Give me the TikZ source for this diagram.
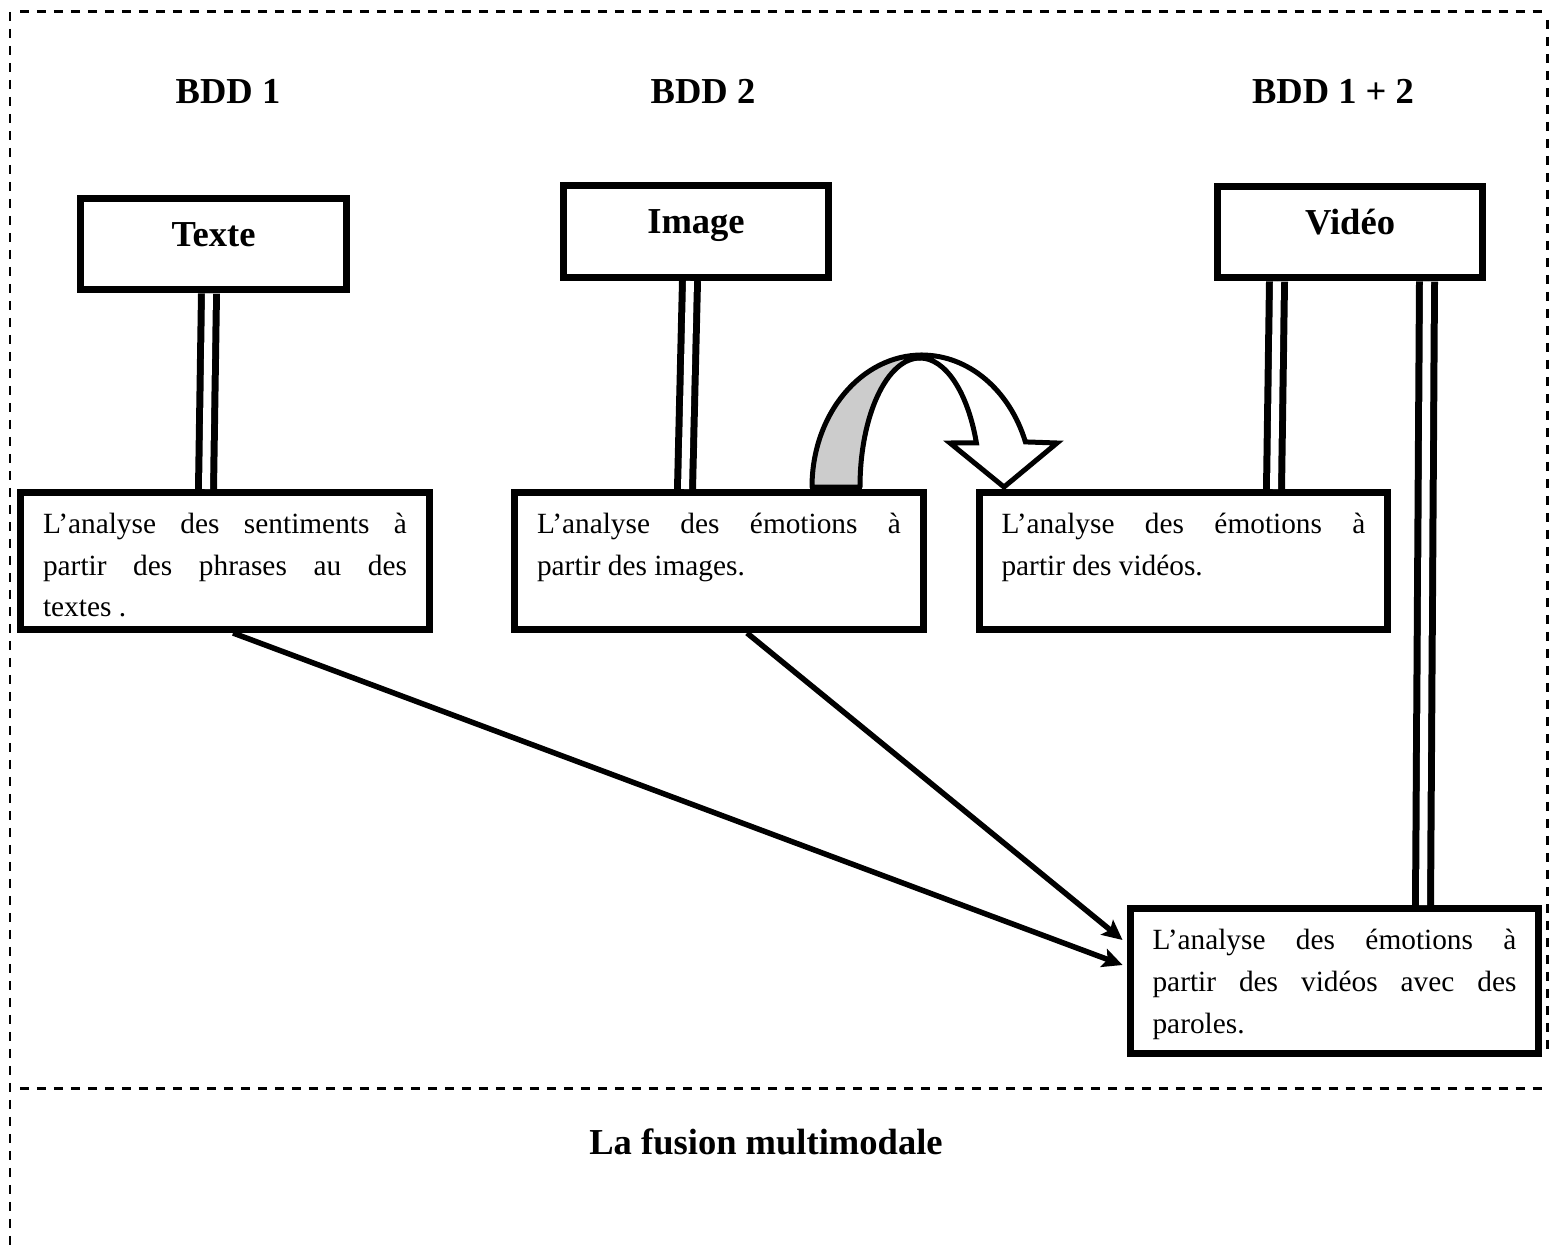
\documentclass[tikz,border=0pt]{standalone}
\usepackage{fontspec}
\setmainfont{Liberation Serif}
\usepackage{tikz}
\usetikzlibrary{arrows.meta,calc}

% box text: height, top strut, text
\newcommand{\boxtxt}[3]{\parbox[c][#1][t]{7.28cm}{\rule{0pt}{#2}#3}}

\begin{document}
\begin{tikzpicture}[x=0.02cm,y=-0.02cm,
  frame/.style={line width=0.06cm,dash pattern=on 0.19cm off 0.15cm},
  head/.style={font=\fontsize{20.8}{25}\selectfont\bfseries},
  titlebox/.style={draw,line width=0.14cm,minimum width=5.32cm,minimum height=1.84cm,
    inner sep=0pt,text height=0.6cm,text depth=0.52cm,font=\fontsize{20.8}{25}\selectfont\bfseries},
  textbox/.style={draw,line width=0.14cm,inner xsep=0.45cm,inner ysep=0.1cm,
    font=\fontsize{16.7}{23.9}\selectfont},
  link/.style={double,line width=0.14cm,double distance=0.16cm},
  arr/.style={line width=0.11cm,-{Stealth[length=0.4cm,width=0.38cm,inset=0.08cm]}}]
\useasboundingbox (0,0) rectangle (1551,1247);

% dashed frame
\draw[frame] (20,12) -- (1546,12);
\draw[frame] (10,12) -- (10,1247);
\draw[frame] (1547,20) -- (1547,1052);
\draw[frame] (20,1088) -- (1542,1088);

% curved arrow
\filldraw[fill=black!20,line width=0.1cm,line join=round] (812,487)
  arc[start angle=180,end angle=270,x radius=110,y radius=132] -- (920,358)
  arc[start angle=270,end angle=180,x radius=60,y radius=129] -- cycle;
\filldraw[fill=white,line width=0.1cm,line join=miter] (920,358)
  arc[start angle=270,end angle=340,x radius=60,y radius=129]
  -- (950,443) -- (1004,487) -- (1057,443) -- (1025.4,441.9)
  arc[start angle=340,end angle=270,x radius=110,y radius=132] -- cycle;

\node[head] (bdda) at (228,91) {BDD 1};
\node[head] (bddb) at (703,91) {BDD 2};
\node[head] (bddc) at (1333,91) {BDD 1 + 2};

\node[titlebox] (texte) at (213.5,244) {Texte};
\node[titlebox] (image) at (696,231.5) {Image};
\node[titlebox] (video) at (1350,232) {Vidéo};

\node[textbox] (sent) at (225,561)
  {\boxtxt{2.54cm}{0.71cm}{L’analyse des sentiments à\linebreak partir des phrases au des\linebreak textes .}};
\node[textbox] (imgan) at (719,561)
  {\boxtxt{2.54cm}{0.71cm}{L’analyse des émotions à\linebreak partir des images.}};
\node[textbox] (vidan) at (1183.5,561)
  {\boxtxt{2.54cm}{0.71cm}{L’analyse des émotions à\linebreak partir des vidéos.}};
\node[textbox] (final) at (1334.5,981)
  {\boxtxt{2.7cm}{0.71cm}{L’analyse des émotions à\linebreak partir des vidéos avec des\linebreak paroles.}};

\node[head] (fusion) at (766,1142) {La fusion multimodale};

\draw[link] ($(texte.south)+(-4.5,0)$) -- ($(sent.north)+(-19,0)$);
\draw[link] ($(image.south)+(-6,0)$) -- ($(imgan.north)+(-34,0)$);
\draw[link] ($(video.south)+(-73,0)$) -- ($(vidan.north)+(90.5,0)$);
\draw[link] ($(video.south)+(77,0)$) -- ($(final.north)+(88.5,0)$);

\draw[arr] ($(sent.south)+(8,0)$) -- ($(final.west)+(-4,-16)$);
\draw[arr] ($(imgan.south)+(28,0)$) -- ($(final.west)+(-4,-41)$);
\end{tikzpicture}
\end{document}
